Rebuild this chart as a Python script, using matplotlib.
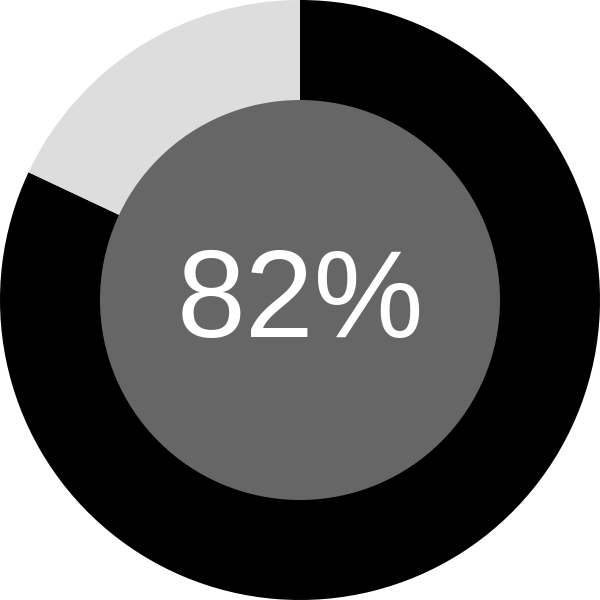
import matplotlib
matplotlib.use("Agg")
import matplotlib.pyplot as plt

labels = ["done", "rest"]
values = [82, 18]
colors = ["#000000", "#dddddd"]
center_text = "82%"

fig = plt.figure(figsize=(6, 6), dpi=100)
ax = fig.add_axes([0, 0, 1, 1])
ax.pie(values, colors=colors, startangle=90, counterclock=False, radius=1.0,
       wedgeprops=dict(linewidth=0))
ax.add_patch(plt.Circle((0, 0), 200 / 300, color="#666666", linewidth=0))
ax.text(0, -0.015, center_text, ha="center", va="center", color="white",
        fontsize=89, family="Liberation Sans")
ax.set_xlim(-1, 1)
ax.set_ylim(-1, 1)
ax.set_aspect("equal")
ax.axis("off")
fig.savefig("out.png", dpi=100, facecolor="white")
